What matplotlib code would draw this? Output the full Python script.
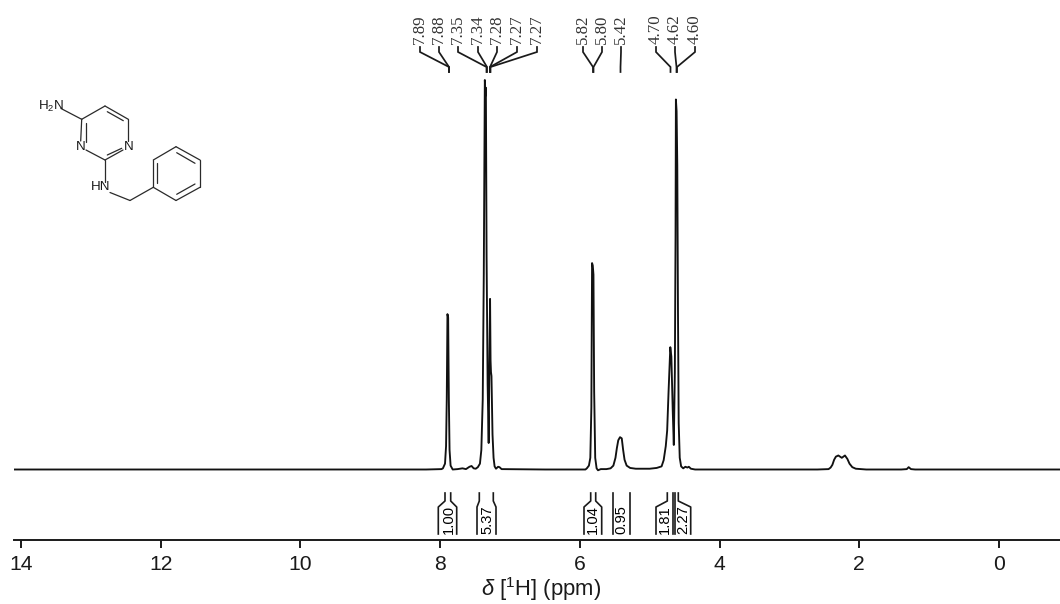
import matplotlib
matplotlib.use("Agg")
import matplotlib.pyplot as plt

plt.rcParams['font.family'] = ['Liberation Sans', 'DejaVu Sans']
plt.rcParams['mathtext.fontset'] = 'custom'
plt.rcParams['mathtext.rm'] = 'Liberation Sans'
plt.rcParams['mathtext.it'] = 'Liberation Sans:italic'

# spectrum trace (ppm, intensity in % of the tallest peak)
ppm = [14.1, 10.0, 8.2, 7.98, 7.96, 7.93, 7.915, 7.905, 7.895, 7.885, 7.875, 7.865, 7.85, 7.82,
       7.75, 7.68, 7.63, 7.58, 7.55, 7.52, 7.49, 7.46, 7.43, 7.41, 7.39, 7.375, 7.36, 7.35, 7.345,
       7.335, 7.32, 7.305, 7.295, 7.285, 7.278, 7.272, 7.265, 7.25, 7.235, 7.22, 7.2, 7.17, 7.15,
       7.12, 6.5, 5.92, 5.9, 5.87, 5.85, 5.835, 5.825, 5.815, 5.805, 5.795, 5.78, 5.76, 5.74, 5.7,
       5.62, 5.56, 5.52, 5.49, 5.47, 5.45, 5.425, 5.40, 5.38, 5.36, 5.33, 5.28, 5.2, 5.1, 5.0, 4.95,
       4.9, 4.83, 4.8, 4.77, 4.75, 4.73, 4.705, 4.69, 4.67, 4.655, 4.64, 4.63, 4.625, 4.615, 4.605,
       4.595, 4.585, 4.57, 4.55, 4.52, 4.49, 4.46, 4.44, 4.41, 4.35, 3.5, 2.6, 2.44, 2.41, 2.385,
       2.36, 2.335, 2.30, 2.25, 2.205, 2.17, 2.14, 2.1, 2.05, 1.9, 1.4, 1.32, 1.293, 1.26, 1.2,
       0.5, -0.88]
intensity = [0, 0, 0, 0.1, 0.3, 1.5, 6, 18, 39.9, 39.0, 18, 5, 1, 0,
             0.1, 0.3, 0.1, 0.7, 0.9, 0.3, 0.2, 0.6, 1.5, 5, 18, 50, 100, 96, 98,
             55, 22, 6.8, 27, 43.8, 28, 25, 24, 9, 3, 0.8, 0.2, 0.7, 0.6,
             0.1, 0, 0, 0.3, 1, 3, 16, 53, 52.4, 50, 20, 3, 0.3, -0.2, 0.1,
             0.1, 0.3, 1, 3, 5.5, 7.5, 8.3, 8, 5, 2.5, 1, 0.4, 0.2, 0.2, 0.2, 0.3,
             0.4, 0.8, 2.4, 6, 10, 20, 31.4, 29, 15, 6.3, 25, 60, 95, 92, 78,
             40, 12, 3, 0.8, 0.3, 0.7, 0.5, 0.7, 0.2, 0, 0, 0, 0.1, 0.5, 1.2,
             2.5, 3.3, 3.6, 3.0, 3.6, 2.7, 1.5, 0.6, 0.2, 0, 0, 0.1, 0.6, 0.1, 0,
             0, 0]

tick_vals = [14, 12, 10, 8, 6, 4, 2, 0]
peak_labels = ['7.89', '7.88', '7.35', '7.34', '7.28', '7.27', '7.27',
               '5.82', '5.80', '5.42', '4.70', '4.62', '4.60']
integral_labels = ['1.00', '5.37', '1.04', '0.95', '1.81', '2.27']

# layout in pixels of the 1060x604 picture
label_x = [420, 439, 458, 478, 497, 517, 537, 583, 602, 621, 656, 675, 695]
label_end = [449, 449, 486.5, 487, 490, 490, 490.5, 593, 593.5, 620.5, 670.5, 676.5, 677]
integral_x = [449, 487, 593, 621, 665, 683]
# each side of a bracket: x at the top, x at the bottom
integral_sides = [(445, 438.3), (450.7, 456.7), (479.3, 477), (493.3, 496), (590.7, 584), (595.7, 601.7),
                  (612.7, 612.7), (630, 630), (667.3, 656), (672.7, 672.7), (674.6, 674.6), (678.3, 690.7)]
ring_bonds = [
    (61, 108.5, 81.7, 119.3), (81.7, 119.3, 105, 106), (105, 106, 128.3, 119.3), (128.3, 119.3, 128.3, 141),
    (123, 150, 105, 160), (105, 160, 86, 150), (80.7, 141, 81.7, 119.3), (105, 160, 105, 181.5),
    (110, 192.5, 130, 200.5), (130, 200.5, 153.3, 187.3), (153.3, 187.3, 153.3, 160), (153.3, 160, 176, 146.7),
    (176, 146.7, 200, 160), (200, 160, 200, 187.3), (200, 187.3, 176, 200.5), (176, 200.5, 153.3, 187.3),
    (107.3, 111.7, 123.3, 120.7), (85.7, 123.3, 85.7, 141.7), (121.7, 148.3, 107.3, 155),
    (157, 163.3, 157, 183.3), (176.7, 152.7, 195, 163.3), (195, 184, 176.7, 194.3),
]
atom_labels = [('H$_2$N', 51, 106), ('N', 80.5, 147), ('N', 128.5, 147), ('HN', 101, 187.5)]

px_zero = 999.0
px_per_ppm = 69.86
ax_left, ax_right, ax_bottom = 14, 1060, 540
ink = '#1a1a1a'

fig = plt.figure(figsize=(10.6, 6.04), dpi=100)
ax = fig.add_axes([ax_left/1060, (604-ax_bottom)/604, (ax_right-ax_left)/1060, ax_bottom/604])
ax.plot(ppm, intensity, color='#111111', lw=1.35, solid_joinstyle='round')
ax.set_xlim((px_zero-ax_left)/px_per_ppm, (px_zero-ax_right)/px_per_ppm)
ax.set_ylim(-70.5/3.895, 469.5/3.895)
ax.set_xticks(tick_vals)
ax.set_yticks([])
for s in ['top', 'left', 'right']:
    ax.spines[s].set_visible(False)
ax.spines['bottom'].set_linewidth(1.4)
ax.spines['bottom'].set_color(ink)
ax.tick_params(axis='x', length=6, width=1.4, color=ink, labelsize=15.2, pad=4.5, labelcolor=ink)
ax.set_xlabel(r'$\delta$ [$^{1}$H] (ppm)', fontsize=15.8, color=ink, va='center')
ax.xaxis.set_label_coords((541.5-ax_left)/(ax_right-ax_left), -(589.5-ax_bottom)/ax_bottom)

# overlay in pixel coordinates for the annotations and the structure
ov = fig.add_axes([0, 0, 1, 1], facecolor='none')
ov.set_xlim(0, 1060)
ov.set_ylim(604, 0)
ov.axis('off')

for lab, lx, ex in zip(peak_labels, label_x, label_end):
    ov.text(lx, 44, lab, rotation=90, ha='center', va='bottom', fontsize=12.2,
            family=['Liberation Serif'], color='#333333')
    ov.plot([lx, lx, ex, ex], [47, 52, 67, 72], color=ink, lw=1.25, solid_joinstyle='miter')

for lab, ix in zip(integral_labels, integral_x):
    ov.text(ix, 534, lab, rotation=90, ha='center', va='bottom', fontsize=10.6, color='black')
for top_x, bot_x in integral_sides:
    ov.plot([top_x, top_x, bot_x, bot_x], [493, 501, 507, 534], color=ink, lw=1.2)

for x0, y0, x1, y1 in ring_bonds:
    ov.plot([x0, x1], [y0, y1], color='#2a2a2a', lw=0.9, solid_capstyle='round')
for lab, x, y in atom_labels:
    ov.text(x, y, lab, ha='center', va='center', fontsize=9.6, color=ink)

fig.savefig('out.png', dpi=100)
